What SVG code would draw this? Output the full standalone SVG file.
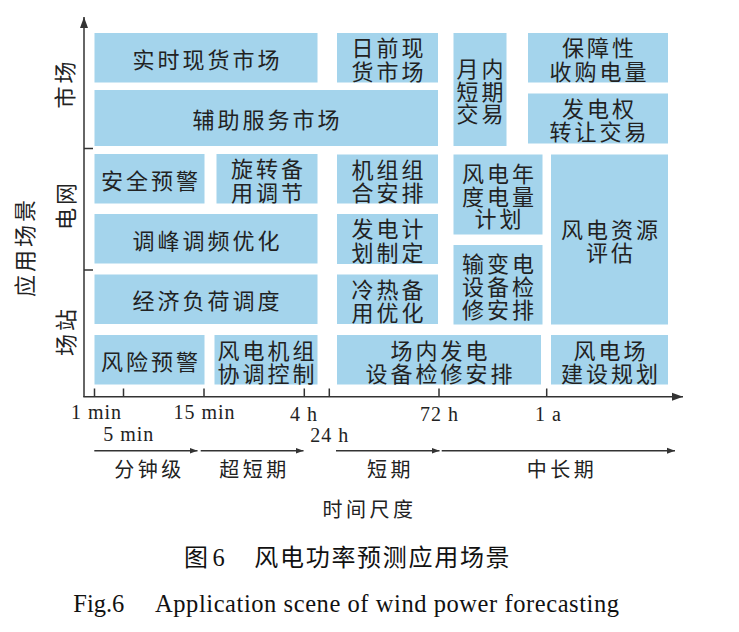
<svg xmlns="http://www.w3.org/2000/svg" width="739" height="632" viewBox="0 0 739 632">
<style>
.box{fill:#a4d4ec}
.t{font-family:"Noto Sans CJK SC",sans-serif;font-size:22px;letter-spacing:3px;fill:#222;text-anchor:middle;dominant-baseline:central}
.lb{font-family:"Noto Sans CJK SC",sans-serif;font-size:20px;letter-spacing:3.5px;fill:#222;text-anchor:middle;dominant-baseline:central}
.num{font-family:"Liberation Serif",serif;font-size:20px;letter-spacing:1px;fill:#222;text-anchor:middle}
.axis{stroke:#333;stroke-width:1.5;fill:none}
.cap{font-family:"Noto Sans CJK SC",sans-serif;font-size:24px;fill:#111}
.en{font-family:"Liberation Serif",serif;font-size:24.5px;fill:#111}
</style>
<defs>
<marker id="big" markerUnits="userSpaceOnUse" markerWidth="12" markerHeight="10" refX="11" refY="5" orient="auto"><path d="M0,1 L11,5 L0,9 Z" fill="#333"/></marker>
<marker id="sm" markerUnits="userSpaceOnUse" markerWidth="9" markerHeight="8" refX="8" refY="4" orient="auto"><path d="M0,1 L8,4 L0,7 Z" fill="#333"/></marker>
</defs>
<g id="connectors">
<line class="axis" x1="84" y1="397" x2="84" y2="17" marker-end="url(#big)"/>
<line class="axis" x1="83.3" y1="396.7" x2="683" y2="396.7" marker-end="url(#big)"/>
<path class="axis" d="M84,148.5 H93 M84,270 H93"/>
<path class="axis" d="M94.5,396.7 V388.5 M123.5,396.7 V388.5 M204,396.7 V388.5 M304.3,396.7 V388.5 M329.3,396.7 V388.5 M439,396.7 V388.5 M546.7,396.7 V388.5"/>
<line class="axis" x1="94.3" y1="450.7" x2="197.5" y2="450.7" marker-end="url(#sm)"/>
<line class="axis" x1="200.7" y1="450.7" x2="303.5" y2="450.7" marker-end="url(#sm)"/>
<line class="axis" x1="336" y1="450.7" x2="439.5" y2="450.7" marker-end="url(#sm)"/>
<line class="axis" x1="441.7" y1="450.7" x2="675" y2="450.7" marker-end="url(#sm)"/>
</g>
<g id="n1"><rect class="box" x="94.5" y="33" width="223" height="49.5"/><text class="t" x="207.5" y="57.75">实时现货市场</text></g>
<g id="n2"><rect class="box" x="337" y="33" width="101" height="49.5"/><text class="t"><tspan x="389" y="46">日前现</tspan><tspan x="389" y="70">货市场</tspan></text></g>
<g id="n3"><rect class="box" x="453.5" y="33" width="53" height="113"/><text class="t"><tspan x="481.5" y="67">月内</tspan><tspan x="481.5" y="89.5">短期</tspan><tspan x="481.5" y="112">交易</tspan></text></g>
<g id="n4"><rect class="box" x="528" y="33" width="140" height="49.5"/><text class="t"><tspan x="599.5" y="46">保障性</tspan><tspan x="599.5" y="70">收购电量</tspan></text></g>
<g id="n5"><rect class="box" x="94.5" y="90" width="343.5" height="56"/><text class="t" x="267.5" y="118">辅助服务市场</text></g>
<g id="n6"><rect class="box" x="528" y="93.5" width="140" height="50"/><text class="t"><tspan x="599.5" y="107">发电权</tspan><tspan x="599.5" y="130">转让交易</tspan></text></g>
<g id="n7"><rect class="box" x="94.5" y="154" width="110" height="49.5"/><text class="t" x="151" y="179">安全预警</text></g>
<g id="n8"><rect class="box" x="216.5" y="154" width="101" height="49.5"/><text class="t"><tspan x="268.5" y="167">旋转备</tspan><tspan x="268.5" y="190.5">用调节</tspan></text></g>
<g id="n9"><rect class="box" x="337" y="154.5" width="101" height="49"/><text class="t"><tspan x="389" y="167.5">机组组</tspan><tspan x="389" y="190.5">合安排</tspan></text></g>
<g id="n10"><rect class="box" x="453.5" y="154.5" width="89" height="80"/><text class="t"><tspan x="499.5" y="172">风电年</tspan><tspan x="499.5" y="194.5">度电量</tspan><tspan x="499.5" y="217">计划</tspan></text></g>
<g id="n11"><rect class="box" x="551" y="154.5" width="117" height="170"/><text class="t"><tspan x="611" y="228">风电资源</tspan><tspan x="611" y="251">评估</tspan></text></g>
<g id="n12"><rect class="box" x="94.5" y="214" width="223" height="49.5"/><text class="t" x="207.5" y="238.75">调峰调频优化</text></g>
<g id="n13"><rect class="box" x="337" y="214" width="101" height="50"/><text class="t"><tspan x="389" y="227">发电计</tspan><tspan x="389" y="251">划制定</tspan></text></g>
<g id="n14"><rect class="box" x="453.5" y="245" width="89" height="79.5"/><text class="t"><tspan x="499.5" y="262">输变电</tspan><tspan x="499.5" y="285">设备检</tspan><tspan x="499.5" y="308">修安排</tspan></text></g>
<g id="n15"><rect class="box" x="94.5" y="274.5" width="223" height="49.5"/><text class="t" x="207.5" y="299.25">经济负荷调度</text></g>
<g id="n16"><rect class="box" x="337" y="274.5" width="101" height="49.5"/><text class="t"><tspan x="389" y="287.5">冷热备</tspan><tspan x="389" y="311">用优化</tspan></text></g>
<g id="n17"><rect class="box" x="94.5" y="335" width="110" height="49.5"/><text class="t" x="151" y="359.75">风险预警</text></g>
<g id="n18"><rect class="box" x="214.5" y="335" width="103" height="49.5"/><text class="t"><tspan x="267.5" y="348.5">风电机组</tspan><tspan x="267.5" y="371.5">协调控制</tspan></text></g>
<g id="n19"><rect class="box" x="337" y="335" width="204" height="49.5"/><text class="t"><tspan x="440.5" y="348.5">场内发电</tspan><tspan x="440.5" y="371.5">设备检修安排</tspan></text></g>
<g id="n20"><rect class="box" x="551" y="335" width="117" height="49.5"/><text class="t"><tspan x="611" y="348.5">风电场</tspan><tspan x="611" y="371.5">建设规划</tspan></text></g>
<g id="axis-labels">
<text class="t" transform="rotate(-90 63 85)" x="64.5" y="85">市场</text>
<text class="t" transform="rotate(-90 64 206.5)" x="65.5" y="206.5">电网</text>
<text class="t" transform="rotate(-90 64 332.5)" x="65.5" y="332.5">场站</text>
<text class="t" transform="rotate(-90 22.5 248.5)" x="24" y="248.5">应用场景</text>
<text class="num" x="96.5" y="418.5">1 min</text>
<text class="num" x="204.5" y="418.5">15 min</text>
<text class="num" x="304" y="421">4 h</text>
<text class="num" x="439.5" y="421">72 h</text>
<text class="num" x="548.5" y="421">1 a</text>
<text class="num" x="128.8" y="441">5 min</text>
<text class="num" x="329.8" y="441.5">24 h</text>
<text class="lb" x="149.5" y="468.5">分钟级</text>
<text class="lb" x="254.5" y="468.5">超短期</text>
<text class="lb" x="390.5" y="468.5">短期</text>
<text class="lb" x="562" y="468.5">中长期</text>
<text class="lb" x="369.5" y="508.5">时间尺度</text>
</g>
<g id="caption">
<text class="cap" x="184" y="566">图</text>
<text class="en" x="212.5" y="566">6</text>
<text class="cap" x="254.3" y="566" letter-spacing="1.7">风电功率预测应用场景</text>
<text class="en" x="73.3" y="611.7">Fig.6</text>
<text class="en" x="155" y="611.7" textLength="464" lengthAdjust="spacing">Application scene of wind power forecasting</text>
</g>
</svg>
